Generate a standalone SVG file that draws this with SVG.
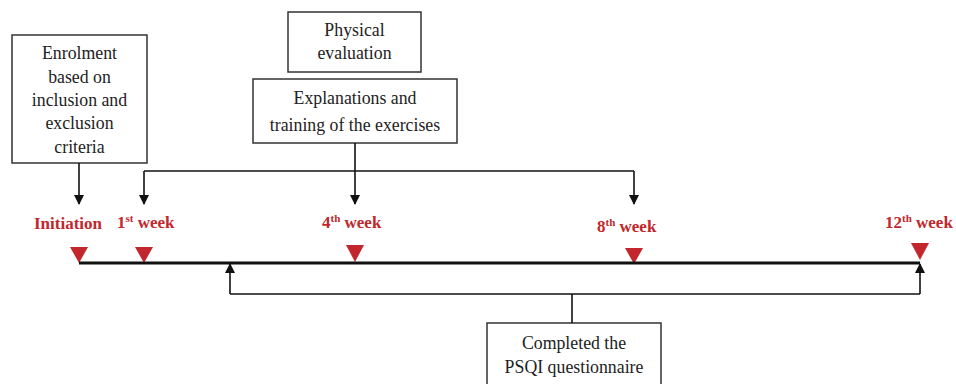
<svg xmlns="http://www.w3.org/2000/svg" width="956" height="384" viewBox="0 0 956 384">
<style>
.box{fill:#fff;stroke:#333;stroke-width:1.5}
.t{font-family:"Liberation Serif",serif;font-size:17.8px;fill:#222;text-anchor:middle}
.r{font-family:"Liberation Serif",serif;font-size:17px;font-weight:bold;fill:#c1272d}
.s{font-size:11px}
.ln{fill:none;stroke:#111;stroke-width:1.6}
.tri{fill:#c1272d}
</style>
<defs>
<marker id="ah" viewBox="0 0 10 10" refX="9" refY="5" markerWidth="10" markerHeight="10" markerUnits="userSpaceOnUse" orient="auto">
<path d="M0,0 L10,5 L0,10 z" fill="#111"/>
</marker>
</defs>
<g id="enrolment">
<rect class="box" x="12" y="35" width="135" height="128"/>
<text class="t" x="79.5" y="59">Enrolment</text>
<text class="t" x="79.5" y="83">based on</text>
<text class="t" x="79.5" y="106">inclusion and</text>
<text class="t" x="79.5" y="129">exclusion</text>
<text class="t" x="79.5" y="153">criteria</text>
</g>
<g id="physical">
<rect class="box" x="288" y="12" width="133" height="60"/>
<text class="t" x="354.5" y="36">Physical</text>
<text class="t" x="354.5" y="59">evaluation</text>
</g>
<g id="explanations">
<rect class="box" x="253" y="79" width="204" height="64"/>
<text class="t" x="355" y="104">Explanations and</text>
<text class="t" x="355" y="131">training of the exercises</text>
</g>
<g id="psqi">
<rect class="box" x="487" y="323" width="174" height="70"/>
<text class="t" x="574" y="349">Completed the</text>
<text class="t" x="574" y="373">PSQI questionnaire</text>
</g>
<g id="labels">
<text class="r" x="34" y="229">Initiation</text>
<text class="r" x="117" y="228">1<tspan class="s" dy="-6">st</tspan><tspan dy="6"> week</tspan></text>
<text class="r" x="322" y="228">4<tspan class="s" dy="-6">th</tspan><tspan dy="6"> week</tspan></text>
<text class="r" x="597" y="232">8<tspan class="s" dy="-6">th</tspan><tspan dy="6"> week</tspan></text>
<text class="r" x="885" y="228">12<tspan class="s" dy="-6">th</tspan><tspan dy="6"> week</tspan></text>
</g>
<g id="markers">
<path class="tri" d="M70,247 L88,247 L79,263 z"/>
<path class="tri" d="M135,247 L153,247 L144,263 z"/>
<path class="tri" d="M346,245 L364,245 L355,262 z"/>
<path class="tri" d="M625,248 L643,248 L634,264 z"/>
<path class="tri" d="M911,243 L929,243 L920,260 z"/>
</g>
<g id="connectors">
<line x1="79" y1="263" x2="920" y2="263" stroke="#111" stroke-width="3"/>
<line class="ln" x1="79" y1="163" x2="79" y2="204" marker-end="url(#ah)"/>
<line class="ln" x1="144" y1="171" x2="634" y2="171"/>
<line class="ln" x1="144" y1="171" x2="144" y2="204" marker-end="url(#ah)"/>
<line class="ln" x1="634" y1="171" x2="634" y2="204" marker-end="url(#ah)"/>
<line class="ln" x1="355" y1="143" x2="355" y2="204" marker-end="url(#ah)"/>
<line class="ln" x1="230" y1="294" x2="920" y2="294"/>
<line class="ln" x1="230" y1="294" x2="230" y2="264" marker-end="url(#ah)"/>
<line class="ln" x1="920" y1="294" x2="920" y2="264" marker-end="url(#ah)"/>
<line class="ln" x1="572" y1="294" x2="572" y2="323"/>
</g>
</svg>
